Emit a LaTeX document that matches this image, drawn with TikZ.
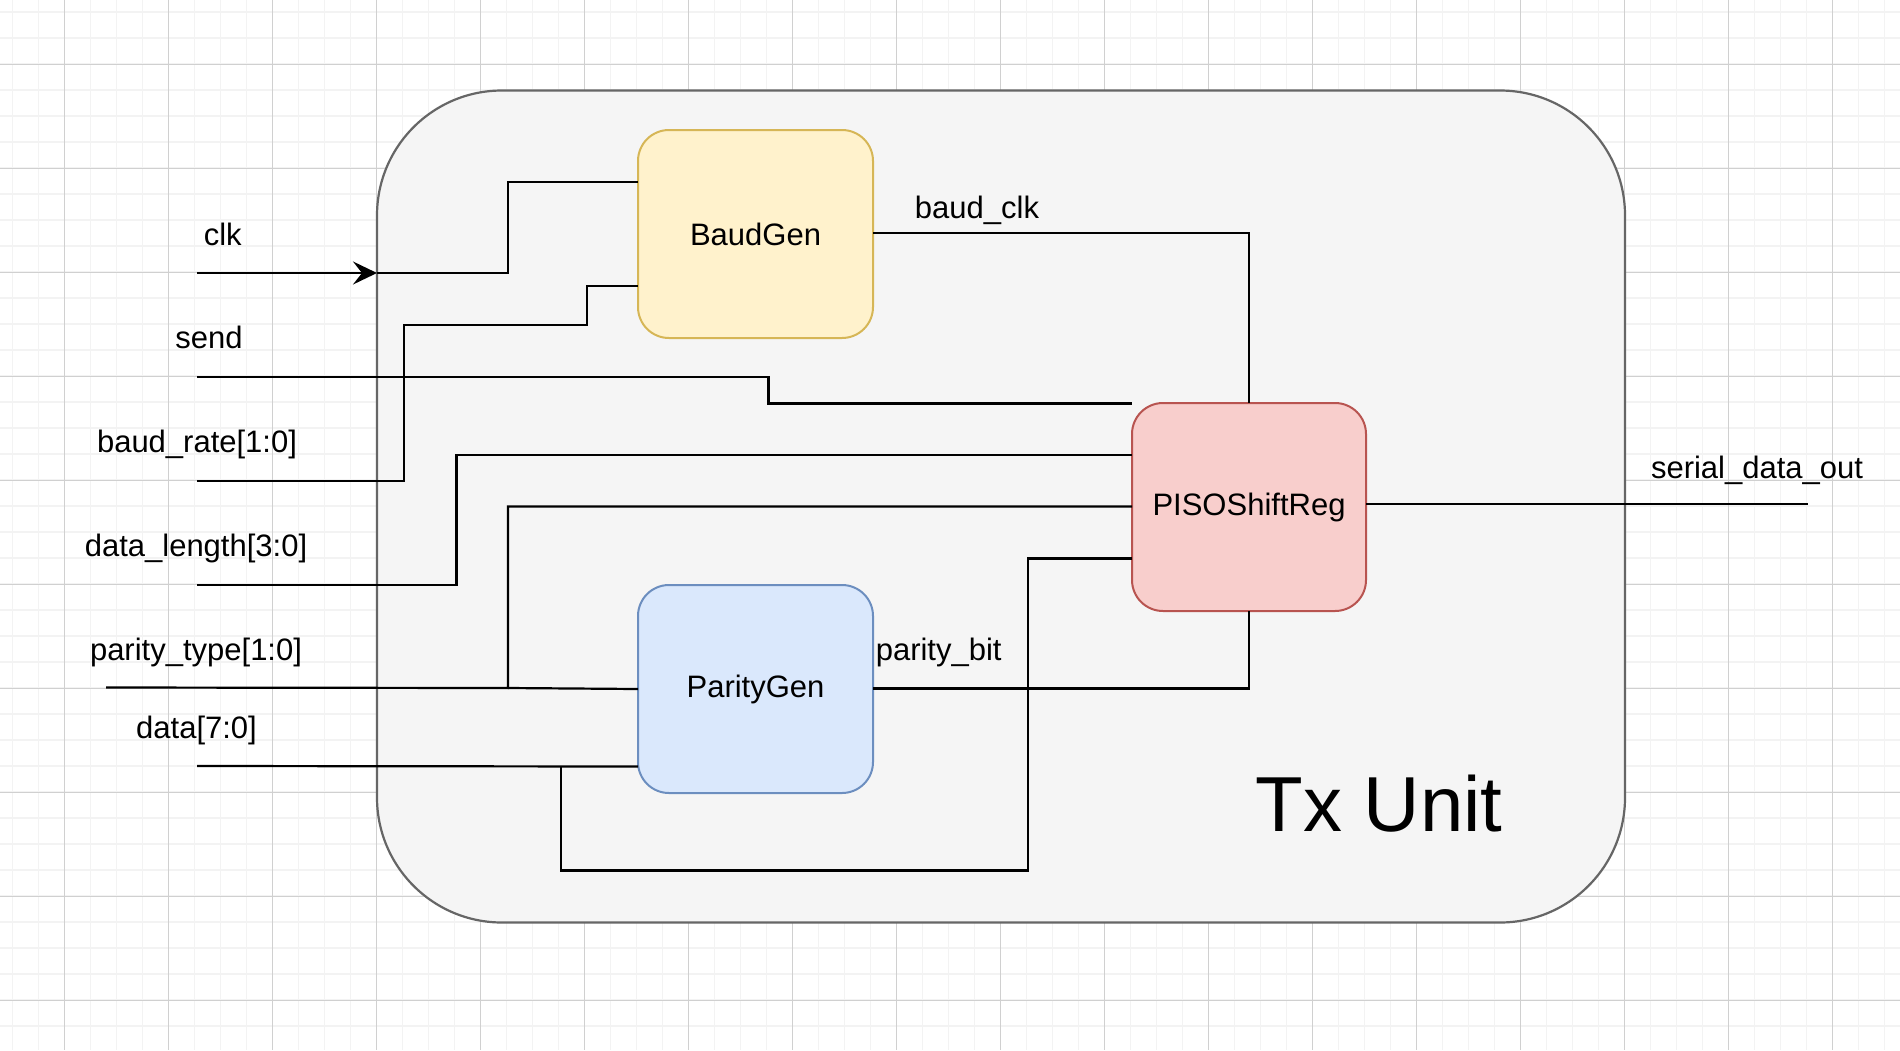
\documentclass[tikz,border=0pt]{standalone}
\usepackage{fontspec}
\setmainfont{Liberation Sans}
\usetikzlibrary{arrows.meta}
\definecolor{gridminor}{HTML}{F3F3F3}
\definecolor{gridmajor}{HTML}{D0D0D0}
\definecolor{txfill}{HTML}{F5F5F5}
\definecolor{txdraw}{HTML}{666666}
\definecolor{bgfill}{HTML}{FFF2CC}
\definecolor{bgdraw}{HTML}{D6B656}
\definecolor{pgfill}{HTML}{DAE8FC}
\definecolor{pgdraw}{HTML}{6C8EBF}
\definecolor{pisofill}{HTML}{F8CECC}
\definecolor{pisodraw}{HTML}{B85450}
\newcommand{\lblfont}{\fontsize{31}{37}\selectfont}
\newcommand{\bigtxfont}{\fontsize{78}{90}\selectfont}
\begin{document}
\begin{tikzpicture}[x=1pt,y=-1pt,
  conn/.style={draw=black,line width=2.2pt},
  blk/.style={rounded corners=31pt,minimum width=235pt,minimum height=208pt,
    inner sep=0pt,outer sep=0pt,line width=2pt,font=\lblfont},
  lbl/.style={font=\lblfont,inner sep=0pt,outer sep=0pt,anchor=base}]
\useasboundingbox (0,0) rectangle (1900,1050);
\fill[white] (0,0) rectangle (1900,1050);
% grid
\foreach \gx in {12.5,38.5,...,1900} \draw[gridminor,line width=1.7pt] (\gx,0) -- (\gx,1050);
\foreach \gy in {12.3,38.3,...,1050} \draw[gridminor,line width=1.7pt] (0,\gy) -- (1900,\gy);
\foreach \gx in {64.5,168.5,...,1900} \draw[gridmajor,line width=0.9pt] (\gx,0) -- (\gx,1050);
\foreach \gy in {64.3,168.3,...,1050} \draw[gridmajor,line width=0.9pt] (0,\gy) -- (1900,\gy);
% outer unit
\node[draw=txdraw,fill=txfill,line width=2.2pt,rounded corners=125pt,
  minimum width=1248pt,minimum height=832pt,inner sep=0pt,outer sep=0pt] (tx) at (1001,506.5) {};
\node[font=\bigtxfont,inner sep=0pt,anchor=base] (txlabel) at (1379,831.3) {Tx Unit};
% blocks
\node[blk,draw=bgdraw,fill=bgfill] (bg) at (755.5,234) {BaudGen};
\node[blk,draw=pgdraw,fill=pgfill] (pg) at (755.5,689) {ParityGen};
\node[blk,draw=pisodraw,fill=pisofill,minimum width=234pt] (piso) at (1249,507) {PISOShiftReg};
% port coordinates
\coordinate (clkin) at (197,273);
\coordinate (clkport) at (377,273);
\coordinate (sendin) at (197,377);
\coordinate (baudin) at (197,481);
\coordinate (dlin) at (197,584.6);
\coordinate (ptin) at (106,687.5);
\coordinate (ptj) at (508,688);
\coordinate (datain) at (197,766);
\coordinate (dj) at (560.6,766);
\coordinate (sdout) at (1807.6,504);
% connectors
\draw[conn,-{Stealth[length=24pt,width=23pt,inset=9pt]}] (clkin) -- (clkport);
\draw[conn] (clkport) -| (508,182) -- (bg.west |- 0,182);
\draw[conn] (sendin) -| (768.5,403.5) -- (piso.west |- 0,403.5);
\draw[conn] (baudin) -| (403.6,324.7) -| (586.7,285.6) -- (bg.west |- 0,285.6);
\draw[conn] (dlin) -| (456.4,454.6) -- (piso.west |- 0,454.6);
\draw[conn] (ptin) -- (ptj) |- (piso.west |- 0,506.5);
\draw[conn] (ptj) -- (pg.west |- 0,689);
\draw[conn] (datain) -- (pg.west |- 0,766.5);
\draw[conn] (dj) |- (1027.6,870.5) |- (piso.west |- 0,558.5);
\draw[conn] (bg.east |- 0,233) -| (piso.north);
\draw[conn] (pg.east |- 0,688.5) -| (piso.south);
\draw[conn] (piso.east |- 0,504) -- (sdout);
% labels
\node[lbl] (lclk) at (222.7,245.4) {clk};
\node[lbl] (lsend) at (209,348.8) {send};
\node[lbl] (lbaud) at (197,452.6) {baud\_rate[1:0]};
\node[lbl] (ldl) at (196,556.8) {data\_length[3:0]};
\node[lbl] (lpt) at (196,660.6) {parity\_type[1:0]};
\node[lbl] (ldata) at (196.5,738.3) {data[7:0]};
\node[lbl] (lbclk) at (977,218.3) {baud\_clk};
\node[lbl] (lpbit) at (938.7,660.6) {parity\_bit};
\node[lbl] (lsdo) at (1757,478) {serial\_data\_out};
\end{tikzpicture}
\end{document}
